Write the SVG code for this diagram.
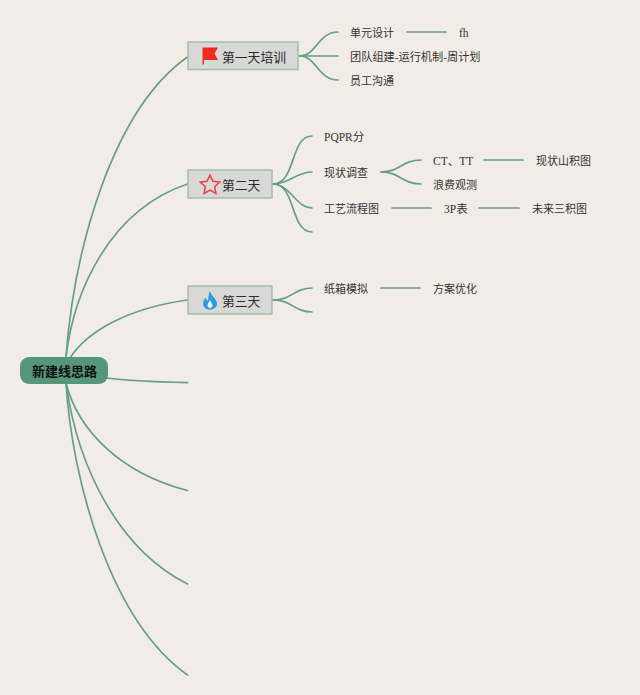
<svg xmlns="http://www.w3.org/2000/svg" width="640" height="695" viewBox="0 0 640 695">
<style>
.c{fill:none;stroke:#659f85;stroke-width:1.700;stroke-linecap:round}
.n{fill:#d8d8d6;stroke:#a3bdb0;stroke-width:1.5}
text{font-family:"Liberation Serif","Noto Sans CJK SC",serif;font-size:11px;fill:#333}
.t{font-size:12.800px;fill:#2b2b2b}
.l{font-size:11.500px}
</style>
<rect width="640" height="695" fill="#f1ede6"/>
<g id="connectors">
<path class="c" d="M66 357C74 250 112 110 187.500 57"/>
<path class="c" d="M66 357C74 290 110 210 187.500 184"/>
<path class="c" d="M70 358C88 330 130 308 187.500 300"/>
<path class="c" d="M106 378C130 381 160 382 187.500 382.700"/>
<path class="c" d="M66 383C78 430 120 473 187.500 490.500"/>
<path class="c" d="M66 383C78 470 120 550 187.500 584"/>
<path class="c" d="M66 383C72 480 110 620 187.500 675"/>
<path class="c" d="M300 56C316 56 318 32 338 32"/>
<path class="c" d="M300 56H338"/>
<path class="c" d="M300 56C316 56 318 80 338 80"/>
<path class="c" d="M407 32H446"/>
<path class="c" d="M273 184C296 184 290 136 312 136"/>
<path class="c" d="M273 184C290 184 296 172 312 172"/>
<path class="c" d="M273 184C290 184 296 208 312 208"/>
<path class="c" d="M273 184C296 184 290 232 312 232"/>
<path class="c" d="M381 172C400 172 402 160 421 160"/>
<path class="c" d="M381 172C400 172 402 184 421 184"/>
<path class="c" d="M484 160H523"/>
<path class="c" d="M392 208H431"/>
<path class="c" d="M479 208H519"/>
<path class="c" d="M273 300C292 300 294 288 312 288"/>
<path class="c" d="M273 300C292 300 294 312 312 312"/>
<path class="c" d="M381 288H420"/>
</g>
<g id="root"><rect x="20" y="357" width="88" height="27" rx="9" fill="#56977b"/><text x="64.500" y="376" text-anchor="middle" font-weight="700" style="font-size:13px;fill:#111">新建线思路</text></g>
<g id="day1"><rect class="n" x="188" y="42" width="110" height="27.500"/><path d="M202.500 47.500H218L214.500 53.500L218 60H204V64.500H202.500Z" fill="#ee2b1c"/><text class="t" x="222" y="62">第一天培训</text></g>
<g id="day2"><rect class="n" x="188" y="170" width="84" height="28"/><path d="M210 175L212.900 181.300L219.700 182.100L214.700 186.800L216 193.600L210 190.200L204 193.600L205.300 186.800L200.300 182.100L207.100 181.300Z" fill="none" stroke="#e8403a" stroke-width="1.500"/><text class="t" x="222" y="190">第二天</text></g>
<g id="day3"><rect class="n" x="188" y="286" width="84" height="28"/><path d="M210 291C211 296 217 299 217 304C217 307 214 309.500 210 309.500C206 309.500 203 307 203 303.500C203 301 204.500 299 205.500 297.500C206 299.500 207 300.500 208 300.500C208.500 297 208.500 294 210 291Z" fill="#2b9be0"/><path d="M210 300C208.500 303 207.500 304 207.500 305.500C207.500 307 208.500 308 210 308C211.500 308 212.500 307 212.500 305.500C212.500 304 211 302.500 210 300Z" fill="#f1f4f6"/><text class="t" x="222" y="306">第三天</text></g>
<g id="n1"><text x="350" y="37">单元设计</text></g>
<g id="n2"><text class="l" x="459" y="37">fh</text></g>
<g id="n3"><text x="350" y="61" style="font-size:11.200px">团队组建-运行机制-周计划</text></g>
<g id="n4"><text x="350" y="85">员工沟通</text></g>
<g id="n5"><text class="l" x="324" y="141">PQPR分</text></g>
<g id="n6"><text x="324" y="177">现状调查</text></g>
<g id="n7"><text class="l" x="433" y="165">CT、TT</text></g>
<g id="n8"><text x="536" y="165">现状山积图</text></g>
<g id="n9"><text x="433" y="189">浪费观测</text></g>
<g id="n10"><text x="324" y="213">工艺流程图</text></g>
<g id="n11"><text class="l" x="444" y="213">3P表</text></g>
<g id="n12"><text x="532" y="213">未来三积图</text></g>
<g id="n13"><text x="324" y="293">纸箱模拟</text></g>
<g id="n14"><text x="433" y="293">方案优化</text></g>
</svg>
